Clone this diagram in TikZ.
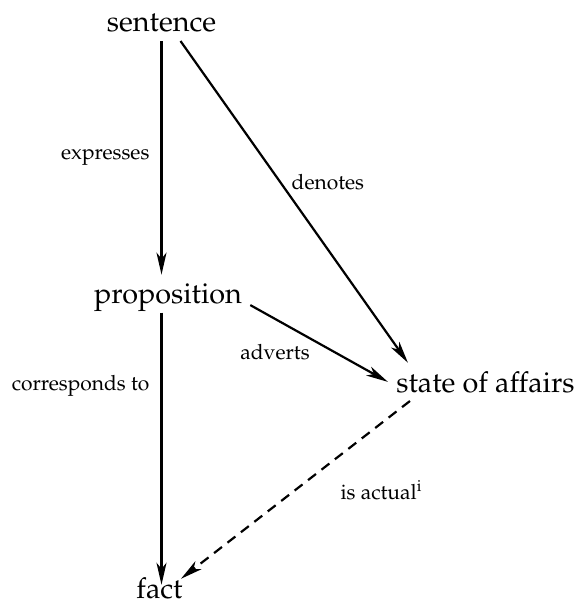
\documentclass[tikz,border=0pt]{standalone}
\usepackage[T1]{fontenc}
\usepackage{mathpazo}
\usetikzlibrary{arrows.meta,calc}

\begin{document}
\begin{tikzpicture}[
  x=0.5pt, y=-0.5pt,
  term/.style={inner sep=4pt, anchor=base, font=\fontsize{14.4}{17}\selectfont},
  lbl/.style={inner sep=0pt, font=\fontsize{10.5}{12}\selectfont},
  rel/.style={-{Stealth[length=11pt, width=5pt, inset=3pt]}, line width=1.1pt},
  actual/.style={rel, dash pattern=on 5pt off 3.5pt}
]
\useasboundingbox (0,0) rectangle (579,605);

\node[term] (sentence) at (161.5,32) {sentence};
\node[term] (proposition) at (168,303) {proposition};
\node[term] (soa) at (485.5,392) {state of affairs};
\node[term, inner sep=0pt] (fact) at (159.5,598) {fact};

\draw[rel] (sentence.south) -- node[lbl, midway, left=5.5pt] {expresses} (sentence.south |- proposition.north);
\draw[rel] ([xshift=9.5pt]sentence.south) -- node[lbl, pos=0.44, right=5pt] {denotes} ([xshift=10pt]soa.north west);
\draw[rel] ([yshift=-4pt]proposition.east) -- node[lbl, pos=0.18, below=12pt] {adverts} (soa.west);
\draw[rel] ($(proposition.south -| sentence.south)+(0,3.5pt)$) -- node[lbl, pos=0.27, left=5.5pt] {corresponds to} ($(fact.north -| sentence.south)+(0,-4pt)$);
\draw[actual] ([xshift=11pt]soa.south west) -- node[lbl, pos=0.5, right=22pt] {is actual\textsuperscript{i}} ([shift={(-1pt,-1pt)}]fact.north east);

\end{tikzpicture}
\end{document}
